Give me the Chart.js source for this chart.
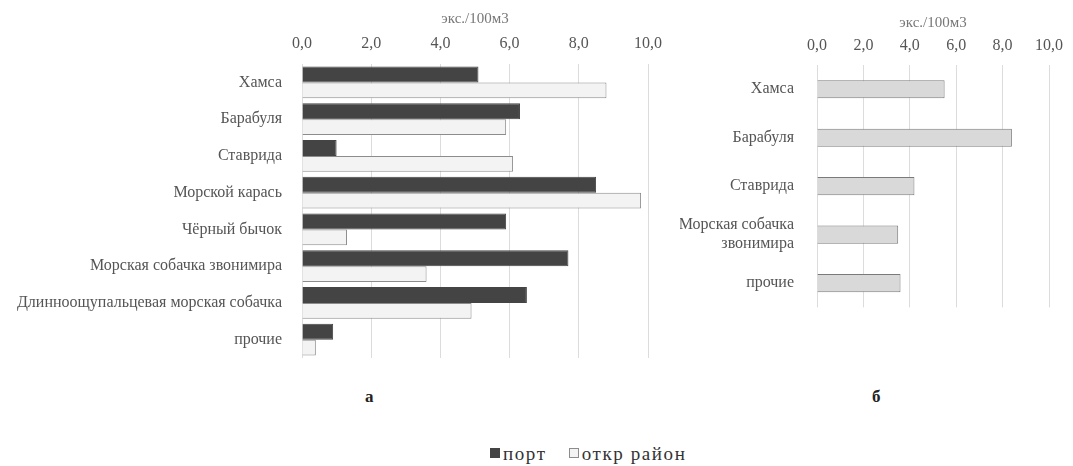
<!DOCTYPE html>
<html>
<head>
<meta charset="utf-8">
<script src="https://cdn.jsdelivr.net/npm/chart.js@4"></script>
<style>
  body { margin: 0; background: #fff; font-family: "Liberation Serif", serif; }
  .wrap { position: relative; width: 1073px; height: 466px; }
  .box { position: absolute; }
  .sub { position: absolute; font-weight: bold; font-size: 17px; color: #222; }
  #legend { position: absolute; top: 443px; left: 490px; white-space: nowrap; font-size: 19px; letter-spacing: 1.6px; color: #333; }
  #legend span.sw { display: inline-block; width: 10px; height: 10px; margin-right: 3px; vertical-align: 2px; box-sizing: border-box; }
  #legend span.item { margin-right: 22px; }
</style>
</head>
<body>
<div class="wrap">
  <div class="box" style="left:0;top:0;width:680px;height:380px"><canvas id="chartA"></canvas></div>
  <div class="box" style="left:680px;top:0;width:393px;height:332px"><canvas id="chartB"></canvas></div>
  <div class="sub" style="left:365px;top:387px">а</div>
  <div class="sub" style="left:872px;top:387px">б</div>
  <div id="legend"></div>
</div>
<script>
// data
const speciesA = ['Хамса', 'Барабуля', 'Ставрида', 'Морской карась', 'Чёрный бычок',
  'Морская собачка звонимира', 'Длинноощупальцевая морская собачка', 'прочие'];
const portA = [5.1, 6.3, 1.0, 8.5, 5.9, 7.7, 6.5, 0.9];
const openA = [8.8, 5.9, 6.1, 9.8, 1.3, 3.6, 4.9, 0.4];

const speciesB = ['Хамса', 'Барабуля', 'Ставрида', ['Морская собачка', 'звонимира'], 'прочие'];
const openB = [5.5, 8.4, 4.2, 3.5, 3.6];

const axisTitle = 'экс./100м3';
const fmt = v => v.toFixed(1).replace('.', ',');

Chart.defaults.font.family = '"Liberation Serif", serif';
Chart.defaults.animation = false;

const serieStyles = {
  port: { label: 'порт', bg: '#444444', border: '#444444' },
  open: { label: 'откр район', bg: '#f3f3f3', border: '#8c8c8c' }
};

// top value axis; its height is fixed so the plot starts where the reference does
function xAxis(axisHeight, tickPad) {
  return {
    position: 'top', min: 0, max: 10,
    ticks: { stepSize: 2, callback: fmt, color: '#555', font: { size: 16 }, padding: tickPad },
    grid: { color: '#dcdcdc', drawTicks: false },
    border: { display: false },
    title: { display: true, text: axisTitle, color: '#777', font: { size: 15 }, padding: 0 },
    afterFit: s => { s.height = axisHeight; }
  };
}

new Chart(document.getElementById('chartA'), {
  type: 'bar',
  data: {
    labels: speciesA,
    datasets: [
      { label: serieStyles.port.label, data: portA, backgroundColor: serieStyles.port.bg,
        borderColor: serieStyles.port.border, borderWidth: 1 },
      { label: serieStyles.open.label, data: openA, backgroundColor: serieStyles.open.bg,
        borderColor: serieStyles.open.border, borderWidth: 1 }
    ]
  },
  options: {
    indexAxis: 'y',
    maintainAspectRatio: false,
    layout: { padding: { top: 10, right: 32, bottom: 22 } },
    plugins: { legend: { display: false }, tooltip: { enabled: false } },
    datasets: { bar: { categoryPercentage: 0.87, barPercentage: 1.0 } },
    scales: {
      x: xAxis(54, 11),
      y: {
        ticks: { color: '#555', font: { size: 16 }, padding: 12 },
        grid: { display: false },
        border: { display: false },
        afterFit: s => { s.width = 302; }
      }
    }
  }
});

new Chart(document.getElementById('chartB'), {
  type: 'bar',
  data: {
    labels: speciesB,
    datasets: [
      { label: serieStyles.open.label, data: openB, backgroundColor: '#d9d9d9',
        borderColor: '#7a7a7a', borderWidth: 1 }
    ]
  },
  options: {
    indexAxis: 'y',
    maintainAspectRatio: false,
    layout: { padding: { top: 14, right: 15, bottom: 0 } },
    plugins: { legend: { display: false }, tooltip: { enabled: false } },
    datasets: { bar: { categoryPercentage: 0.375, barPercentage: 1.0 } },
    scales: {
      x: xAxis(51, 10),
      y: {
        ticks: { color: '#555', font: { size: 16 }, padding: 15 },
        grid: { display: false },
        border: { display: false },
        afterFit: s => { s.width = 137; }
      }
    }
  }
});

// shared legend
const legend = document.getElementById('legend');
['port', 'open'].forEach(k => {
  const st = serieStyles[k];
  const item = document.createElement('span');
  item.className = 'item';
  item.innerHTML = '<span class="sw" style="background:' + st.bg + ';border:1px solid ' + st.border + '"></span>' + st.label;
  legend.appendChild(item);
});
</script>
</body>
</html>
